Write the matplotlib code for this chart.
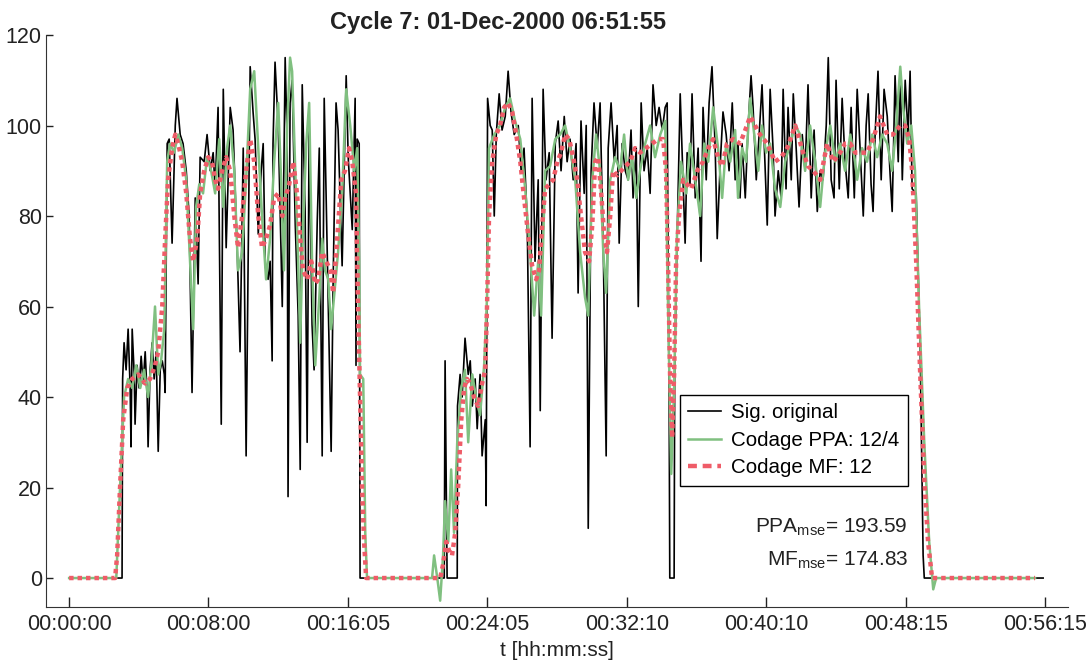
import matplotlib
matplotlib.use("Agg")
import matplotlib.pyplot as plt
from matplotlib.lines import Line2D

plt.rcParams['font.family'] = ['Liberation Sans', 'DejaVu Sans']
plt.rcParams['mathtext.fontset'] = 'custom'
plt.rcParams['mathtext.rm'] = 'Liberation Sans'
plt.rcParams['mathtext.it'] = 'Liberation Sans'

# ---------------- data (time in seconds, speed values) ----------------
t_orig = [0, 183, 185, 190, 197, 204, 211, 214, 218, 225, 228, 235, 242, 249, 256, 263, 270, 273, 280, 287,
          294, 301, 308, 315, 322, 329, 332, 339, 346, 356, 367, 373, 384, 394, 405, 415, 425, 436, 446, 453,
          467, 477, 488, 498, 505, 515, 526, 533, 543, 557, 567, 581, 591, 602, 612, 626, 636, 643, 654, 664,
          671, 678, 688, 695, 702, 705, 712, 723, 737, 747, 754, 757, 764, 771, 782, 792, 799, 806, 816, 823,
          830, 840, 847, 858, 865, 875, 882, 892, 899, 906, 913, 923, 930, 944, 958, 965, 979, 989, 992, 996,
          1003, 1006,
          1248, 1297, 1300, 1304, 1307, 1342, 1343, 1352, 1359, 1369, 1380, 1387, 1394, 1404, 1411, 1421, 1428,
          1439, 1442, 1447, 1456, 1463, 1470, 1477, 1487, 1497, 1508, 1518, 1528, 1539, 1553, 1563, 1573, 1584,
          1594, 1601, 1611, 1622, 1629, 1639, 1649, 1660, 1670, 1681, 1691, 1701, 1712, 1722, 1732, 1743, 1753,
          1760, 1770, 1781, 1788, 1795, 1805, 1815, 1826, 1836, 1847, 1857, 1864, 1874, 1885, 1895, 1902, 1912,
          1923, 1933, 1943, 1950, 1961, 1968, 1978, 1988, 1999, 2009, 2019, 2030, 2040, 2051, 2061, 2068, 2075,
          2077, 2092, 2094, 2102, 2113, 2123, 2130, 2137, 2147, 2154, 2165, 2175, 2185, 2192, 2203, 2213, 2223,
          2234, 2241, 2251, 2261, 2272, 2282, 2293, 2303, 2313, 2320, 2327, 2338, 2348, 2358, 2365, 2376, 2386,
          2396, 2407, 2414, 2424, 2434, 2441, 2452, 2462, 2469, 2479, 2486, 2497, 2504, 2514, 2524, 2535, 2545,
          2555, 2566, 2576, 2587, 2597, 2607, 2618, 2625, 2635, 2645, 2652, 2663, 2673, 2683, 2694, 2704, 2715,
          2725, 2735, 2746, 2756, 2763, 2773, 2780, 2787, 2797, 2808, 2818, 2829, 2839, 2846, 2856, 2867, 2874,
          2881, 2891, 2901, 2908, 2915, 2929, 2943, 2953, 2957, 3368]
v_orig = [0, 0, 44, 52, 46, 55, 42, 29, 55, 45, 34, 47, 42, 49, 43, 50, 40, 29, 46, 52,
          44, 50, 28, 46, 48, 45, 41, 96, 97, 74, 100, 106, 98, 96, 90, 80, 41, 84, 65, 93,
          92, 98, 90, 94, 86, 104, 34, 108, 73, 104, 99, 73, 50, 95, 27, 113, 103, 97, 76, 90,
          96, 69, 66, 70, 48, 96, 114, 100, 60, 115, 96, 18, 105, 110, 78, 58, 24, 109, 81, 30,
          100, 56, 46, 79, 95, 27, 106, 73, 50, 28, 66, 105, 99, 69, 111, 93, 77, 106, 47, 97,
          96, 0,
          0, 0, 48, 20, 0, 0, 38, 45, 40, 53, 45, 48, 38, 44, 33, 45, 27,
          35, 16, 106, 100, 99, 80, 98, 107, 99, 102, 112, 103, 98, 100, 90, 95, 79,
          29, 106, 70, 88, 37, 108, 88, 94, 53, 96, 101, 90, 102, 92, 97, 88, 96,
          63, 101, 85, 100, 11, 90, 105, 95, 105, 73, 27, 95, 105, 92, 100, 74, 96,
          90, 88, 99, 84, 95, 60, 105, 90, 95, 85, 109, 100, 104, 99, 104, 105, 35,
          0, 0, 46, 74, 107, 88, 74, 94, 87, 107, 84, 95, 70, 104, 88, 105, 113,
          95, 75, 91, 103, 98, 90, 105, 88, 96, 84, 96, 84, 100, 111, 104, 88, 98,
          109, 90, 78, 108, 95, 80, 90, 84, 108, 86, 104, 88, 107, 95, 82, 98, 90,
          109, 84, 99, 81, 90, 88, 100, 115, 88, 84, 110, 86, 106, 92, 84, 104, 84,
          108, 95, 80, 100, 107, 87, 81, 98, 112, 88, 108, 102, 89, 81, 111, 92, 112,
          88, 110, 98, 112, 86, 85, 50, 5, 0, 0]

t_ppa = [0, 163, 176, 190, 204, 218, 232, 246, 259, 273, 284, 297, 308, 318, 329, 339, 349, 363, 377, 391,
         405, 418, 429, 439, 450, 463, 477, 491, 505, 519, 533, 546, 557, 571, 584, 598, 612, 626, 640, 654,
         667, 681, 695, 709, 723, 733, 743, 754, 764, 771, 782, 792, 799, 809, 820, 830, 840, 851, 865, 875,
         885, 896, 906, 916, 930, 944, 958, 972, 986, 996, 1003, 1006, 1017, 1024, 1030,
         1255, 1262, 1273, 1283, 1293, 1300, 1311, 1321, 1331, 1342, 1356, 1369, 1380, 1394, 1407, 1421, 1435,
         1445, 1452, 1470, 1490, 1508, 1525, 1542, 1560, 1577, 1594, 1608, 1622, 1632, 1646, 1663, 1681, 1698,
         1715, 1732, 1750, 1767, 1784, 1795, 1809, 1822, 1836, 1847, 1857, 1871, 1888, 1905, 1919, 1933, 1947,
         1961, 1974, 1992, 2009, 2026, 2044, 2061, 2071, 2082, 2092, 2102, 2116, 2134, 2147, 2165, 2182, 2196,
         2210, 2227, 2244, 2258, 2272, 2286, 2303, 2313, 2327, 2341, 2355, 2369, 2383, 2396, 2410, 2424, 2441,
         2459, 2476, 2493, 2511, 2528, 2545, 2562, 2580, 2597, 2614, 2632, 2649, 2666, 2683, 2701, 2718, 2725,
         2742, 2759, 2777, 2794, 2811, 2829, 2846, 2860, 2874, 2884, 2898, 2912, 2925, 2939, 2957, 2974, 2988,
         2998, 3340]
v_ppa = [0, 0, 20, 40, 44, 42, 47, 42, 46, 40, 47, 60, 45, 48, 55, 92, 96, 94, 98, 95,
         88, 70, 55, 82, 87, 85, 93, 90, 85, 97, 82, 95, 100, 90, 68, 72, 88, 108, 112, 95,
         80, 66, 75, 92, 105, 88, 68, 100, 115, 112, 90, 70, 52, 78, 96, 105, 70, 47, 62, 75,
         68, 66, 55, 62, 72, 85, 108, 100, 90, 95, 70, 45, 44, 10, 0,
         0, 5, 0, -5, 5, 17, 8, 24, 10, 30, 42, 46, 30, 45, 40, 36, 47,
         62, 95, 98, 100, 104, 106, 101, 97, 86, 72, 58, 70, 58, 90, 91, 97, 98,
         100, 95, 88, 72, 62, 58, 88, 98, 90, 72, 63, 88, 93, 90, 98, 88, 93,
         84, 90, 96, 100, 93, 98, 101, 60, 23, 42, 76, 92, 85, 96, 88, 80, 96,
         92, 104, 95, 84, 96, 92, 99, 84, 95, 92, 106, 98, 90, 100, 94, 96, 86,
         82, 92, 96, 100, 98, 90, 100, 92, 82, 94, 100, 92, 96, 90, 98, 92, 88,
         95, 92, 98, 93, 98, 96, 90, 100, 113, 104, 96, 100, 90, 60, 30, 8, -2.5,
         0, 0]

t_mf = [0, 159, 166, 176, 187, 201, 218, 239, 263, 280, 297, 308, 322, 332, 342, 356, 367, 377, 391, 405,
        418, 429, 443, 453, 467, 481, 494, 505, 515, 529, 543, 557, 571, 584, 598, 612, 626, 640, 654, 667,
        681, 695, 709, 723, 737, 747, 761, 775, 788, 799, 809, 823, 837, 851, 861, 875, 889, 903, 913, 927,
        941, 954, 968, 979, 992, 999, 1006, 1013, 1020, 1027,
        1283, 1293, 1304, 1314, 1324, 1335, 1345, 1356, 1366, 1376, 1387, 1400, 1414, 1428, 1439, 1445, 1452,
        1463, 1477, 1490, 1504, 1518, 1532, 1546, 1560, 1573, 1587, 1601, 1615, 1625, 1636, 1646, 1660, 1674,
        1688, 1701, 1715, 1729, 1743, 1757, 1770, 1784, 1798, 1809, 1819, 1829, 1840, 1850, 1860, 1871, 1881,
        1895, 1909, 1923, 1940, 1957, 1974, 1995, 2016, 2037, 2054, 2064, 2071, 2078, 2085, 2092, 2099, 2109,
        2123, 2137, 2151, 2172, 2192, 2210, 2227, 2244, 2258, 2275, 2296, 2320, 2338, 2355, 2372, 2389, 2414,
        2441, 2462, 2483, 2511, 2538, 2555, 2573, 2597, 2621, 2642, 2666, 2683, 2701, 2718, 2735, 2759, 2780,
        2804, 2829, 2849, 2874, 2891, 2905, 2915, 2929, 2943, 2957, 2970, 2984, 3340]
v_mf = [0, 0, 5, 20, 35, 42, 44, 45, 43, 44, 47, 50, 60, 75, 88, 95, 98, 96, 92, 85,
        75, 70, 75, 85, 90, 93, 92, 88, 86, 90, 93, 90, 80, 73, 80, 90, 97, 92, 80, 73,
        75, 78, 84, 85, 80, 84, 87, 92, 85, 75, 68, 66, 70, 65, 66, 72, 70, 68, 63, 75,
        88, 90, 95, 92, 85, 60, 40, 20, 8, 0,
        0, 3, 8, 6, 5, 10, 20, 35, 42, 44, 43, 40, 38, 43, 46, 60, 80,
        92, 98, 100, 104, 105, 103, 98, 92, 84, 76, 69, 66, 68, 78, 86, 87, 88,
        92, 94, 98, 97, 93, 88, 80, 72, 70, 78, 92, 93, 85, 76, 72, 80, 90,
        89, 90, 91, 92, 95, 94, 95, 96, 97, 97, 90, 70, 45, 31, 45, 70, 80,
        88, 87, 86, 90, 92, 95, 97, 93, 91, 96, 97, 96, 99, 102, 100, 98, 96,
        92, 93, 95, 100, 94, 91, 90, 88, 96, 92, 94, 96, 96, 94, 94, 94, 97,
        102, 98, 98, 100, 100, 97, 90, 70, 45, 22, 8, 0, 0]

tick_pos = [0, 480, 965, 1445, 1930, 2410, 2895, 3375]
tick_lab = ['00:00:00', '00:08:00', '00:16:05', '00:24:05', '00:32:10', '00:40:10', '00:48:15', '00:56:15']
labels = ['Sig. original', 'Codage PPA: 12/4', 'Codage MF: 12']
ppa_mse = 193.59
mf_mse = 174.83
title = 'Cycle 7: 01-Dec-2000 06:51:55'

# ---------------- figure ----------------
W, H = 1092, 661
fig = plt.figure(figsize=(W / 100, H / 100), dpi=100)
ax_l, ax_r, ax_t, ax_b = 46, 1068, 35, 607
ax = fig.add_axes([ax_l / W, 1 - ax_b / H, (ax_r - ax_l) / W, (ax_b - ax_t) / H])

c_black, c_green, c_red = 'black', '#80c080', '#ef5c68'
ax.plot(t_orig, v_orig, color=c_black, lw=1.2, zorder=2)
ax.plot(t_ppa, v_ppa, color=c_green, lw=1.8, zorder=3)
ax.plot(t_mf, v_mf, color=c_red, lw=3.2, dashes=(1.0, 0.9), zorder=4)

ax.set_xlim(-80, 3454)
ax.set_ylim(-6.4, 120)
ax.set_xticks(tick_pos)
ax.set_xticklabels(tick_lab)
ax.set_yticks([0, 20, 40, 60, 80, 100, 120])

for s in ['top', 'right']:
    ax.spines[s].set_visible(False)
ax.spines['left'].set_bounds(-6.4, 120)
ax.spines['left'].set_color('#333333')
ax.spines['bottom'].set_color('#333333')
ax.tick_params(axis='x', direction='in', length=7, width=1, pad=5, labelsize=15.5, colors='#222222')
ax.tick_params(axis='y', direction='in', length=5, width=1, pad=3, labelsize=15.5, colors='#222222')
ax.set_xlabel('t [hh:mm:ss]', fontsize=15, labelpad=4, color='#222222')

fig.text(498 / W, 1 - 22 / H, title, ha='center', va='center', fontsize=17,
         fontweight='bold', color='#222222')

handles = [Line2D([], [], color=c_black, lw=1.2),
           Line2D([], [], color=c_green, lw=1.8),
           Line2D([], [], color=c_red, lw=3.2, dashes=(2.0, 1.3))]
leg = ax.legend(handles, labels, loc='upper left',
                bbox_to_anchor=((680 - ax_l) / (ax_r - ax_l), (ax_b - 395) / (ax_b - ax_t)),
                borderaxespad=0, fontsize=14.8, frameon=True, fancybox=False, framealpha=1,
                edgecolor='black', handlelength=1.6, handletextpad=0.5, labelspacing=0.42,
                borderpad=0.4)
leg.get_frame().set_linewidth(1.0)

xr = (908 - ax_l) / (ax_r - ax_l)
ax.text(xr, (ax_b - 527) / (ax_b - ax_t), r'PPA$_{\mathrm{mse}}$= %.2f' % ppa_mse, transform=ax.transAxes,
        ha='right', va='center', fontsize=15, color='#222222')
ax.text(xr, (ax_b - 560) / (ax_b - ax_t), r'MF$_{\mathrm{mse}}$= %.2f' % mf_mse, transform=ax.transAxes,
        ha='right', va='center', fontsize=15, color='#222222')

fig.savefig('out.png', dpi=100)
